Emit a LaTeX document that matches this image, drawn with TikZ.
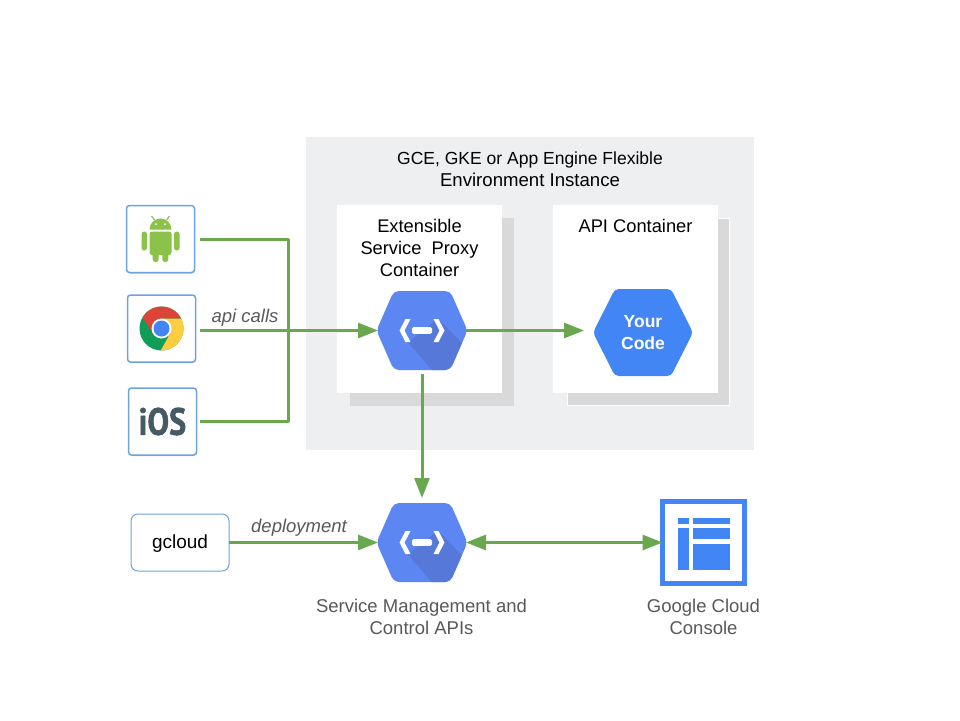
\documentclass[tikz,border=0pt]{standalone}
\usepackage{fontspec}
\setmainfont{Liberation Sans}
\newfontfamily\iosfont[BoldFeatures={FakeBold=1.6}]{PT Sans}
\usetikzlibrary{arrows.meta,calc,shadows}
\definecolor{linkgreen}{HTML}{6AA84F}
\definecolor{panelgray}{HTML}{EEEFF1}
\definecolor{shadowgray}{HTML}{D9D9D9}
\definecolor{hexblue}{HTML}{5C87F2}
\definecolor{hexdark}{HTML}{5678D9}
\definecolor{gblue}{HTML}{4285F4}
\definecolor{edgeblue}{HTML}{6FA3DE}
\definecolor{labelgray}{HTML}{595959}
\definecolor{droid}{HTML}{8BC34A}
\definecolor{chromered}{HTML}{DB4437}
\definecolor{chromeyellow}{HTML}{FFCD40}
\definecolor{chromegreen}{HTML}{0F9D58}
\definecolor{iosgray}{HTML}{455A64}
\tikzset{
  every node/.style={inner sep=0pt,outer sep=0pt,align=center,font=\fontsize{18.3}{22}\selectfont},
  conn/.style={draw=linkgreen,line width=3pt},
  tipped/.style={conn,-{Triangle[length=20pt,width=15pt]}},
  bothtipped/.style={conn,{Triangle[length=20pt,width=15pt]}-{Triangle[length=20pt,width=15pt]}},
  appbox/.style={draw=edgeblue,line width=1.5pt,fill=white,rounded corners=3pt,minimum width=68pt,minimum height=67pt,
     drop shadow={shadow xshift=0.3pt,shadow yshift=-1pt,fill=black!35,opacity=.6}},
  hexnode/.style={minimum width=88pt,minimum height=79pt},
  container/.style={fill=white,minimum width=165pt,minimum height=188pt},
  caption/.style={text=labelgray,font=\fontsize{18.5}{22}\selectfont},
  edgelabel/.style={text=labelgray,font=\fontsize{18.5}{20}\selectfont\itshape},
}
\newcommand{\hexpath}[2]{(-#1,0) -- (-#1*0.62,-#2) -- (#1*0.62,-#2) -- (#1,0) -- (#1*0.62,#2) -- (-#1*0.62,#2) -- cycle}
\newcommand{\proxyhex}[1]{%
  \begin{scope}[shift={(#1.center)}]
    \begin{scope}
      \path[clip,rounded corners=5pt] \hexpath{45.5}{39.5};
      \fill[hexblue] (-50,-45) rectangle (50,45);
      \fill[hexdark] (-14,12) -- (12,42) -- (46,42) -- (46,19) -- (16,-12) -- cycle;
    \end{scope}
    \fill[white] (-22.5,0) -- (-16.5,-11.5) -- (-11.5,-11.5) -- (-17.5,0) -- (-11.5,11.5) -- (-16.5,11.5) -- cycle;
    \fill[white] (22.5,0) -- (16.5,-11.5) -- (11.5,-11.5) -- (17.5,0) -- (11.5,11.5) -- (16.5,11.5) -- cycle;
    \fill[white,rounded corners=1.5pt] (-10,-3.3) rectangle (10,3.3);
  \end{scope}}
\begin{document}
\begin{tikzpicture}[x=1pt,y=-1pt]
\useasboundingbox (0,0) rectangle (960,720);
\fill[white] (0,0) rectangle (960,720);
% instance panel
\node[fill=panelgray,minimum width=448pt,minimum height=313pt] (panel) at (530,293.5) {};
\node[anchor=center] (paneltitle) at (530,169) {{\fontsize{17.5}{22}\selectfont GCE, GKE or App Engine Flexible}\\{\fontsize{18.6}{22}\selectfont Environment Instance}};
% containers
\fill[shadowgray] (350,218) rectangle (514,406);
\draw[white,fill=shadowgray,line width=.8pt] (567,218.5) rectangle (729.5,405.5);
\node[container] (espbox) at (419.5,299) {};
\node[container] (apibox) at (635.5,299) {};
\node (esptitle) at (419.5,248) {Extensible\\Service\ \ Proxy\\Container};
\node (apititle) at (635.5,226) {API Container};
% nodes
\node[hexnode] (esp) at (422,330.5) {};
\node[minimum width=98pt,minimum height=87pt] (code) at (643,332.5) {};
\node[hexnode] (smc) at (422,542.5) {};
\node[appbox] (android) at (160.5,239) {};
\node[appbox] (chrome) at (161.5,328.5) {};
\node[appbox] (ios) at (162.5,421.5) {};
\node[draw=edgeblue,line width=1pt,rounded corners=7pt,fill=white,minimum width=98pt,minimum height=57pt] (gcloud) at (180,542.5) {};
\node[font=\fontsize{19}{22}\selectfont] (gcloudtext) at (180,543.5) {gcloud};
\node[draw=gblue,line width=5pt,minimum width=82pt,minimum height=82pt,fill=white] (console) at (703.5,542.5) {};
% connectors
\draw[conn,shorten <=5pt,shorten >=3pt,line join=round] (android.east |- 0,239) -- (288.5,239) -- (288.5,421) -- (ios.east |- 0,421);
\draw[tipped,shorten <=4pt] (chrome.east |- esp.west) -- (esp.west);
\draw[tipped,shorten >=10pt] (esp.east) -- (code.west |- esp.east);
\draw[tipped,shorten <=4pt,shorten >=5pt] (esp.south) -- (smc.north);
\draw[tipped] (gcloud.east) -- (smc.west);
\draw[bothtipped] (smc.east) -- (console.west);
\node[edgelabel] (apilabel) at (245,318) {api calls};
\node[edgelabel] (deplabel) at (299,528) {deployment};
% hexagons
\proxyhex{esp}
\proxyhex{smc}
\fill[gblue,rounded corners=4pt] ($(code.center)+(-50,0)$) -- ($(code.center)+(-28,-43.5)$) -- ($(code.center)+(28,-43.5)$) -- ($(code.center)+(50,0)$) -- ($(code.center)+(28,43.5)$) -- ($(code.center)+(-28,43.5)$) -- cycle;
\node[text=white,font=\fontsize{17.5}{22}\selectfont\bfseries] (codetext) at (code.center) {Your\\Code};
\node[caption] (smccap) at (421.5,617) {Service Management and\\Control APIs};
\node[caption] (concap) at (703.5,617) {Google Cloud\\Console};
% console icon
\begin{scope}[shift={(660,499)}]
  \fill[gblue] (18,19) rectangle (29,25);
  \fill[gblue] (18,29) rectangle (29,71);
  \fill[gblue] (33,19) rectangle (70,25);
  \fill[gblue] (33,29) rectangle (70,40);
  \fill[gblue] (33,45) rectangle (70,71);
\end{scope}
% android icon
\begin{scope}[shift={(android.center)}]
  \fill[droid] (-11,-9.5) arc[start angle=180,end angle=360,radius=11] -- cycle;
  \draw[droid,line width=1.2pt] (-6,-19) -- (-9,-23);
  \draw[droid,line width=1.2pt] (6,-19) -- (9,-23);
  \fill[white] (-4.5,-15) circle (1); \fill[white] (4.5,-15) circle (1);
  \fill[droid,rounded corners=2.5pt] (-11,-7.5) -- (11,-7.5) -- (11,16) -- (-11,16) -- cycle;
  \fill[droid,rounded corners=2.6pt] (-19,-7.5) rectangle (-13.5,11.5);
  \fill[droid,rounded corners=2.6pt] (13.5,-7.5) rectangle (19,11.5);
  \fill[droid,rounded corners=2.6pt] (-7.8,10) rectangle (-1.8,23);
  \fill[droid,rounded corners=2.6pt] (1.8,10) rectangle (7.8,23);
\end{scope}
% chrome icon
\begin{scope}[shift={(chrome.center)}]
  \begin{scope}
    \clip (0,0) circle (22);
    \fill[chromegreen] (-30,-35) rectangle (30,35);
    \fill[chromered] (0,-10) -- (35,-10) -- (35,-35) -- (-31,-35) -- (-31,-30) -- (-8.66,5) -- (0,0) -- cycle;
    \fill[chromeyellow] (0,-10) -- (35,-10) -- (35,35) -- (-8,35) -- (8.66,5) -- (0,0) -- cycle;
  \end{scope}
  \fill[white] (0,0) circle (10);
  \fill[gblue] (0,0) circle (8);
\end{scope}
% iOS icon
\node[text=iosgray,font=\fontsize{38}{38}\selectfont\iosfont\bfseries] (iostext) at (ios.center) {\scalebox{.85}[1]{iOS}};
\end{tikzpicture}
\end{document}
